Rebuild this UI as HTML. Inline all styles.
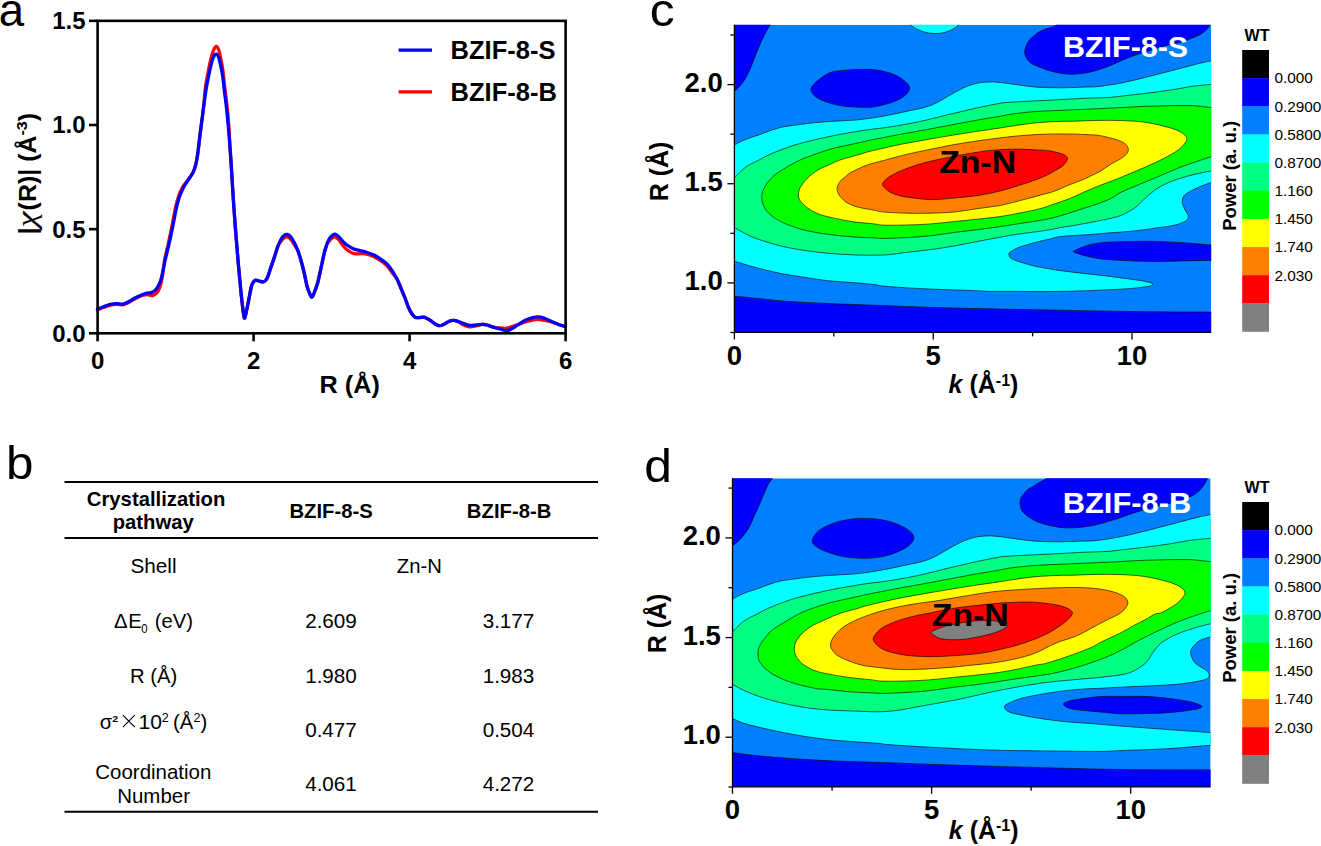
<!DOCTYPE html>
<html><head><meta charset="utf-8"><style>
html,body{margin:0;padding:0;background:#fff;}
body{width:1321px;height:846px;overflow:hidden;}
svg{display:block;font-family:"Liberation Sans",sans-serif;}
</style></head><body>
<svg width="1321" height="846" viewBox="0 0 1321 846">
<text transform="translate(-1.2,26) scale(0.97,1)" font-size="47" font-weight="normal" text-anchor="start" fill="#000" >a</text>
<g fill="none" stroke-linejoin="round" stroke-linecap="round">
<path d="M97.5,310C98.58,309.55 101.67,308.17 104,307.3C106.33,306.43 109.33,305.28 111.5,304.8C113.67,304.32 115.07,304.4 117,304.4C118.93,304.4 121.27,305.07 123.1,304.8C124.93,304.53 126.48,303.53 128,302.8C129.52,302.07 130.7,301.23 132.2,300.4C133.7,299.57 135.35,298.62 137,297.8C138.65,296.98 140.43,296.05 142.1,295.5C143.77,294.95 145.48,294.48 147,294.5C148.52,294.52 149.87,295.63 151.2,295.6C152.53,295.57 153.88,294.98 155,294.3C156.12,293.62 156.98,293.05 157.9,291.5C158.82,289.95 159.73,287.58 160.5,285C161.27,282.42 161.82,280.17 162.5,276C163.18,271.83 163.63,265.4 164.6,260C165.57,254.6 167.05,249.37 168.3,243.6C169.55,237.83 170.93,231.25 172.1,225.4C173.27,219.55 174.23,213.32 175.3,208.5C176.37,203.68 177.28,200.05 178.5,196.5C179.72,192.95 180.92,190.07 182.6,187.2C184.28,184.33 186.83,181.82 188.6,179.3C190.37,176.78 192,174.6 193.2,172.1C194.4,169.6 195.05,167.33 195.8,164.3C196.55,161.27 197,158.78 197.7,153.9C198.4,149.02 199.08,142.27 200,135C200.92,127.73 202.27,118.47 203.2,110.3C204.13,102.13 204.83,92.05 205.6,86C206.37,79.95 206.97,78.33 207.8,74C208.63,69.67 209.7,63.83 210.6,60C211.5,56.17 212.27,53.28 213.2,51C214.13,48.72 215.27,46.47 216.2,46.3C217.13,46.13 218.07,48.05 218.8,50C219.53,51.95 219.93,54.67 220.6,58C221.27,61.33 222.13,65.33 222.8,70C223.47,74.67 223.92,80.17 224.6,86C225.28,91.83 226.22,98.67 226.9,105C227.58,111.33 228.15,116.5 228.7,124C229.25,131.5 229.73,142.42 230.2,150C230.67,157.58 230.95,160.83 231.5,169.5C232.05,178.17 232.85,192.25 233.5,202C234.15,211.75 234.65,218.33 235.4,228C236.15,237.67 237.12,249.78 238,260C238.88,270.22 239.87,280.97 240.7,289.3C241.53,297.63 242.38,305.22 243,310C243.62,314.78 243.9,317.5 244.4,318C244.9,318.5 245.37,315.57 246,313C246.63,310.43 247.28,307.1 248.2,302.6C249.12,298.1 250.62,289.43 251.5,286C252.38,282.57 252.82,282.97 253.5,282C254.18,281.03 254.68,280.37 255.6,280.2C256.52,280.03 257.75,280.72 259,281C260.25,281.28 261.93,282.07 263.1,281.9C264.27,281.73 265.18,280.97 266,280C266.82,279.03 267.17,278.27 268,276.1C268.83,273.93 269.88,270.32 271,267C272.12,263.68 273.53,259.7 274.7,256.2C275.87,252.7 276.9,248.53 278,246C279.1,243.47 280.3,242.37 281.3,241C282.3,239.63 283.03,238.5 284,237.8C284.97,237.1 286.02,236.63 287.1,236.8C288.18,236.97 289.27,237.43 290.5,238.8C291.73,240.17 293.25,242.97 294.5,245C295.75,247.03 296.88,248.3 298,251C299.12,253.7 300.2,257.7 301.2,261.2C302.2,264.7 303.03,267.87 304,272C304.97,276.13 306.08,282.5 307,286C307.92,289.5 308.68,291.13 309.5,293C310.32,294.87 311.07,297.37 311.9,297.2C312.73,297.03 313.53,294.42 314.5,292C315.47,289.58 316.62,286.7 317.7,282.7C318.78,278.7 319.9,272.97 321,268C322.1,263.03 323.3,256.9 324.3,252.9C325.3,248.9 326.17,245.98 327,244C327.83,242.02 328.47,242 329.3,241C330.13,240 331.05,238.7 332,238C332.95,237.3 333.92,236.55 335,236.8C336.08,237.05 337.2,238.05 338.5,239.5C339.8,240.95 341.38,243.78 342.8,245.5C344.22,247.22 345.35,248.5 347,249.8C348.65,251.1 350.87,252.63 352.7,253.3C354.53,253.97 355.87,253.72 358,253.8C360.13,253.88 362.83,253.3 365.5,253.8C368.17,254.3 371.17,255.43 374,256.8C376.83,258.17 380.17,260.3 382.5,262C384.83,263.7 386.35,265.17 388,267C389.65,268.83 390.9,271 392.4,273C393.9,275 395.58,276.48 397,279C398.42,281.52 399.57,284.93 400.9,288.1C402.23,291.27 403.7,294.7 405,298C406.3,301.3 407.53,305.23 408.7,307.9C409.87,310.57 410.93,312.45 412,314C413.07,315.55 413.93,316.6 415.1,317.2C416.27,317.8 417.58,317.6 419,317.6C420.42,317.6 422.27,317.05 423.6,317.2C424.93,317.35 425.82,317.92 427,318.5C428.18,319.08 429.37,319.82 430.7,320.7C432.03,321.58 433.58,322.97 435,323.8C436.42,324.63 437.7,325.63 439.2,325.7C440.7,325.77 442.35,324.95 444,324.2C445.65,323.45 447.47,321.83 449.1,321.2C450.73,320.57 452.32,320.35 453.8,320.4C455.28,320.45 456.47,320.77 458,321.5C459.53,322.23 461.08,323.92 463,324.8C464.92,325.68 467.33,326.6 469.5,326.8C471.67,327 473.87,326.42 476,326C478.13,325.58 480.47,324.47 482.3,324.3C484.13,324.13 485.35,324.58 487,325C488.65,325.42 490.03,326.3 492.2,326.8C494.37,327.3 497.55,327.77 500,328C502.45,328.23 504.9,328.45 506.9,328.2C508.9,327.95 510.03,327.15 512,326.5C513.97,325.85 516.2,325.13 518.7,324.3C521.2,323.47 523.88,322.32 527,321.5C530.12,320.68 534.4,319.57 537.4,319.4C540.4,319.23 542.37,320.02 545,320.5C547.63,320.98 550.7,321.55 553.2,322.3C555.7,323.05 558.03,324.33 560,325C561.97,325.67 564.17,326.08 565,326.3" stroke="#ff0000" stroke-width="3.3"/>
<path d="M97.5,309.2C98.58,308.75 101.67,307.37 104,306.5C106.33,305.63 109.33,304.48 111.5,304C113.67,303.52 115.07,303.6 117,303.6C118.93,303.6 121.27,304.27 123.1,304C124.93,303.73 126.48,302.73 128,302C129.52,301.27 130.7,300.43 132.2,299.6C133.7,298.77 135.35,297.82 137,297C138.65,296.18 140.43,295.33 142.1,294.7C143.77,294.07 145.48,293.55 147,293.2C148.52,292.85 149.87,293.05 151.2,292.6C152.53,292.15 153.88,291.52 155,290.5C156.12,289.48 156.98,288.08 157.9,286.5C158.82,284.92 159.73,283.25 160.5,281C161.27,278.75 161.72,276.5 162.5,273C163.28,269.5 164.1,264.9 165.2,260C166.3,255.1 167.8,249.37 169.1,243.6C170.4,237.83 171.8,231.25 173,225.4C174.2,219.55 175.22,213.27 176.3,208.5C177.38,203.73 178.32,200.27 179.5,196.8C180.68,193.33 181.88,190.62 183.4,187.7C184.92,184.78 186.97,181.9 188.6,179.3C190.23,176.7 192,174.6 193.2,172.1C194.4,169.6 195.05,167.33 195.8,164.3C196.55,161.27 197,158.78 197.7,153.9C198.4,149.02 199.08,142.27 200,135C200.92,127.73 202.2,117.8 203.2,110.3C204.2,102.8 205.17,95.35 206,90C206.83,84.65 207.37,82.37 208.2,78.2C209.03,74.03 210.17,68.45 211,65C211.83,61.55 212.33,59.32 213.2,57.5C214.07,55.68 215.32,54.18 216.2,54.1C217.08,54.02 217.82,55.33 218.5,57C219.18,58.67 219.63,61.1 220.3,64.1C220.97,67.1 221.83,70.65 222.5,75C223.17,79.35 223.63,84.7 224.3,90.2C224.97,95.7 225.83,101.97 226.5,108C227.17,114.03 227.68,119.4 228.3,126.4C228.92,133.4 229.67,142.82 230.2,150C230.73,157.18 230.95,160.83 231.5,169.5C232.05,178.17 232.85,192.25 233.5,202C234.15,211.75 234.65,218.33 235.4,228C236.15,237.67 237.12,249.78 238,260C238.88,270.22 239.87,280.97 240.7,289.3C241.53,297.63 242.38,305.22 243,310C243.62,314.78 243.9,317.5 244.4,318C244.9,318.5 245.37,315.57 246,313C246.63,310.43 247.28,307.1 248.2,302.6C249.12,298.1 250.62,289.43 251.5,286C252.38,282.57 252.82,282.97 253.5,282C254.18,281.03 254.68,280.37 255.6,280.2C256.52,280.03 257.75,280.72 259,281C260.25,281.28 261.93,282.07 263.1,281.9C264.27,281.73 265.18,280.97 266,280C266.82,279.03 267.17,278.27 268,276.1C268.83,273.93 269.88,270.32 271,267C272.12,263.68 273.53,259.7 274.7,256.2C275.87,252.7 276.9,248.9 278,246C279.1,243.1 280.3,240.55 281.3,238.8C282.3,237.05 283.03,236.23 284,235.5C284.97,234.77 286.02,234.23 287.1,234.4C288.18,234.57 289.27,235.07 290.5,236.5C291.73,237.93 293.25,240.58 294.5,243C295.75,245.42 296.88,247.97 298,251C299.12,254.03 300.2,257.7 301.2,261.2C302.2,264.7 303.03,267.87 304,272C304.97,276.13 306.08,282.5 307,286C307.92,289.5 308.68,291.13 309.5,293C310.32,294.87 311.07,297.37 311.9,297.2C312.73,297.03 313.53,294.42 314.5,292C315.47,289.58 316.62,286.7 317.7,282.7C318.78,278.7 319.9,272.97 321,268C322.1,263.03 323.3,256.9 324.3,252.9C325.3,248.9 326.17,246.35 327,244C327.83,241.65 328.47,240.22 329.3,238.8C330.13,237.38 331.05,236.27 332,235.5C332.95,234.73 333.92,234.03 335,234.2C336.08,234.37 337.2,235.32 338.5,236.5C339.8,237.68 341.38,239.88 342.8,241.3C344.22,242.72 345.35,243.82 347,245C348.65,246.18 350.87,247.53 352.7,248.4C354.53,249.27 355.87,249.62 358,250.2C360.13,250.78 362.83,251.1 365.5,251.9C368.17,252.7 371.17,253.58 374,255C376.83,256.42 380.17,258.73 382.5,260.4C384.83,262.07 386.35,263.22 388,265C389.65,266.78 390.9,268.77 392.4,271.1C393.9,273.43 395.58,276.17 397,279C398.42,281.83 399.57,284.93 400.9,288.1C402.23,291.27 403.7,294.7 405,298C406.3,301.3 407.53,305.23 408.7,307.9C409.87,310.57 410.93,312.45 412,314C413.07,315.55 413.93,316.6 415.1,317.2C416.27,317.8 417.58,317.6 419,317.6C420.42,317.6 422.27,317.05 423.6,317.2C424.93,317.35 425.82,317.92 427,318.5C428.18,319.08 429.37,319.82 430.7,320.7C432.03,321.58 433.58,322.97 435,323.8C436.42,324.63 437.7,325.63 439.2,325.7C440.7,325.77 442.35,324.95 444,324.2C445.65,323.45 447.47,321.83 449.1,321.2C450.73,320.57 452.32,320.35 453.8,320.4C455.28,320.45 456.47,321.02 458,321.5C459.53,321.98 461.08,322.67 463,323.3C464.92,323.93 467.33,325.05 469.5,325.3C471.67,325.55 473.87,324.97 476,324.8C478.13,324.63 480.47,324.27 482.3,324.3C484.13,324.33 485.35,324.58 487,325C488.65,325.42 490.03,326.13 492.2,326.8C494.37,327.47 497.55,328.35 500,329C502.45,329.65 504.9,330.78 506.9,330.7C508.9,330.62 510.03,329.57 512,328.5C513.97,327.43 516.2,325.8 518.7,324.3C521.2,322.8 523.88,320.73 527,319.5C530.12,318.27 534.4,317.07 537.4,316.9C540.4,316.73 542.37,317.6 545,318.5C547.63,319.4 550.7,321.22 553.2,322.3C555.7,323.38 558.03,324.33 560,325C561.97,325.67 564.17,326.08 565,326.3" stroke="#0000ff" stroke-width="3.3"/>
</g>
<rect x="97.6" y="20.85" width="468.0" height="312.45" fill="none" stroke="#000" stroke-width="2.6"/>
<line x1="89" y1="333.3" x2="97.6" y2="333.3" stroke="#000" stroke-width="2.6"/>
<text x="85.6" y="341.7" font-size="24" font-weight="bold" text-anchor="end" fill="#000" >0.0</text>
<line x1="89" y1="229.15" x2="97.6" y2="229.15" stroke="#000" stroke-width="2.6"/>
<text x="85.6" y="237.55" font-size="24" font-weight="bold" text-anchor="end" fill="#000" >0.5</text>
<line x1="89" y1="125" x2="97.6" y2="125" stroke="#000" stroke-width="2.6"/>
<text x="85.6" y="133.4" font-size="24" font-weight="bold" text-anchor="end" fill="#000" >1.0</text>
<line x1="89" y1="20.85" x2="97.6" y2="20.85" stroke="#000" stroke-width="2.6"/>
<text x="85.6" y="29.25" font-size="24" font-weight="bold" text-anchor="end" fill="#000" >1.5</text>
<line x1="97.6" y1="333.3" x2="97.6" y2="341.3" stroke="#000" stroke-width="2.6"/>
<text x="97.6" y="368.6" font-size="24" font-weight="bold" text-anchor="middle" fill="#000" >0</text>
<line x1="253.6" y1="333.3" x2="253.6" y2="341.3" stroke="#000" stroke-width="2.6"/>
<text x="253.6" y="368.6" font-size="24" font-weight="bold" text-anchor="middle" fill="#000" >2</text>
<line x1="409.6" y1="333.3" x2="409.6" y2="341.3" stroke="#000" stroke-width="2.6"/>
<text x="409.6" y="368.6" font-size="24" font-weight="bold" text-anchor="middle" fill="#000" >4</text>
<line x1="565.6" y1="333.3" x2="565.6" y2="341.3" stroke="#000" stroke-width="2.6"/>
<text x="565.6" y="368.6" font-size="24" font-weight="bold" text-anchor="middle" fill="#000" >6</text>
<text transform="translate(349.7,393.1) scale(1.03,1)" font-size="24.5" font-weight="bold" text-anchor="middle" fill="#000" >R (Å)</text>
<g transform="translate(35.6,232.4) rotate(-90)"><text x="-1.9" y="0" font-size="24" font-weight="bold" text-anchor="start" fill="#000" >|</text><text transform="translate(4.96,0) scale(1.3,1)" font-family="Liberation Serif" font-style="italic" font-size="28">χ</text><text transform="translate(22,0) scale(1.04,1)" font-size="24" font-weight="bold" text-anchor="start" fill="#000" >(R)| (Å<tspan font-size="15.5" dy="-9">-3</tspan><tspan dy="9">)</tspan></text></g>
<line x1="398.6" y1="50.1" x2="432" y2="50.1" stroke="#0000ff" stroke-width="3.2"/>
<line x1="398.6" y1="91.9" x2="432" y2="91.9" stroke="#ff0000" stroke-width="3.2"/>
<text transform="translate(450.6,58.8) scale(1.02,1)" font-size="25" font-weight="bold" text-anchor="start" fill="#000" >BZIF-8-S</text>
<text transform="translate(450.6,101) scale(1.02,1)" font-size="25" font-weight="bold" text-anchor="start" fill="#000" >BZIF-8-B</text>
<text transform="translate(5.9,479.3) scale(1.05,1)" font-size="47" font-weight="normal" text-anchor="start" fill="#000" >b</text>
<line x1="64.5" y1="482.0" x2="598" y2="482.0" stroke="#000" stroke-width="2"/>
<line x1="64.5" y1="538.1" x2="598" y2="538.1" stroke="#000" stroke-width="2"/>
<line x1="64.5" y1="811.8" x2="598" y2="811.8" stroke="#000" stroke-width="2"/>
<text transform="translate(156.1,505.9) scale(1.035,1)" font-size="19.6" font-weight="bold" text-anchor="middle" fill="#000" >Crystallization</text>
<text transform="translate(153.2,528.6) scale(1.035,1)" font-size="19.6" font-weight="bold" text-anchor="middle" fill="#000" >pathway</text>
<text transform="translate(331.1,517.6) scale(1.035,1)" font-size="19.6" font-weight="bold" text-anchor="middle" fill="#000" >BZIF-8-S</text>
<text transform="translate(509.1,517.6) scale(1.035,1)" font-size="19.6" font-weight="bold" text-anchor="middle" fill="#000" >BZIF-8-B</text>
<text transform="translate(153.5,572.9) scale(1.06,1)" font-size="19.6" font-weight="normal" text-anchor="middle" fill="#000" >Shell</text>
<text transform="translate(419.4,573) scale(1.035,1)" font-size="19.6" font-weight="normal" text-anchor="middle" fill="#000" >Zn-N</text>
<text transform="translate(114,627.9) scale(1.035,1)" font-size="19.6" font-weight="normal" text-anchor="start" fill="#000" >Δ</text>
<text transform="translate(128.3,627.9) scale(1.035,1)" font-size="19.6" font-weight="normal" text-anchor="start" fill="#000" >E</text>
<text transform="translate(141.3,632.6) scale(0.85,1)" font-size="13.5" font-weight="normal" text-anchor="start" fill="#000" >0</text>
<text transform="translate(154.8,627.9) scale(1.035,1)" font-size="19.6" font-weight="normal" text-anchor="start" fill="#000" >(eV)</text>
<text transform="translate(331,627.9) scale(1.055,1)" font-size="19.6" font-weight="normal" text-anchor="middle" fill="#000" >2.609</text>
<text transform="translate(508.5,627.9) scale(1.055,1)" font-size="19.6" font-weight="normal" text-anchor="middle" fill="#000" >3.177</text>
<text transform="translate(153.6,683) scale(1.035,1)" font-size="19.6" font-weight="normal" text-anchor="middle" fill="#000" >R (Å)</text>
<text transform="translate(331,683) scale(1.055,1)" font-size="19.6" font-weight="normal" text-anchor="middle" fill="#000" >1.980</text>
<text transform="translate(508.5,683) scale(1.055,1)" font-size="19.6" font-weight="normal" text-anchor="middle" fill="#000" >1.983</text>
<text transform="translate(99.8,728.6) scale(1.035,1)" font-size="19.6" font-weight="normal" text-anchor="start" fill="#000" >σ</text>
<text transform="translate(112.3,721.9) scale(1.1,1)" font-size="9.5" font-weight="bold" text-anchor="start" fill="#000" >2</text>
<path d="M122.9,715.2L134.8,727.1M134.8,715.2L122.9,727.1" stroke="#000" stroke-width="1.15" fill="none"/>
<text transform="translate(138.6,728.6) scale(1.03,1)" font-size="20.5" font-weight="normal" text-anchor="start" fill="#000" >10</text>
<text x="161.8" y="722.3" font-size="12.6" font-weight="normal" text-anchor="start" fill="#000" >2</text>
<text transform="translate(172.9,728.6) scale(1.035,1)" font-size="19.6" font-weight="normal" text-anchor="start" fill="#000" >(Å</text>
<text x="193.6" y="722.3" font-size="12.6" font-weight="normal" text-anchor="start" fill="#000" >2</text>
<text transform="translate(200.6,728.6) scale(1.035,1)" font-size="19.6" font-weight="normal" text-anchor="start" fill="#000" >)</text>
<text transform="translate(331,736.5) scale(1.055,1)" font-size="19.6" font-weight="normal" text-anchor="middle" fill="#000" >0.477</text>
<text transform="translate(508.5,736.5) scale(1.055,1)" font-size="19.6" font-weight="normal" text-anchor="middle" fill="#000" >0.504</text>
<text transform="translate(153.3,779.4) scale(1.045,1)" font-size="19.6" font-weight="normal" text-anchor="middle" fill="#000" >Coordination</text>
<text transform="translate(153.6,802.6) scale(1.045,1)" font-size="19.6" font-weight="normal" text-anchor="middle" fill="#000" >Number</text>
<text transform="translate(331,791) scale(1.055,1)" font-size="19.6" font-weight="normal" text-anchor="middle" fill="#000" >4.061</text>
<text transform="translate(508.5,791) scale(1.055,1)" font-size="19.6" font-weight="normal" text-anchor="middle" fill="#000" >4.272</text>
<clipPath id="clipc"><rect x="734.4" y="24.8" width="476.8" height="307.6"/></clipPath>
<g clip-path="url(#clipc)">
<rect x="734.4" y="24.8" width="476.8" height="307.6" fill="#0080ff"/>
<path d="M771,18C770.85,19.12 771.15,22 770.1,24.7C769.05,27.4 766.58,30.45 764.7,34.2C762.82,37.95 760.57,43.07 758.8,47.2C757.03,51.33 755.67,55.07 754.1,59C752.53,62.93 751.17,67.05 749.4,70.8C747.63,74.55 745.87,78.15 743.5,81.5C741.13,84.85 737.78,88.32 735.2,90.9C732.62,93.48 729.2,95.98 728,97L728,18Z" fill="#0000ff" stroke="#000" stroke-width="0.7" stroke-opacity="0.9"/>
<path d="M810.9,89.8C810.82,87.38 812.55,85.27 815.5,82.5C818.45,79.73 824.52,75.15 828.6,73.2C832.68,71.25 836.07,71.38 840,70.8C843.93,70.22 847.87,69.95 852.2,69.7C856.53,69.45 861.37,69.17 866,69.3C870.63,69.43 875.33,69.63 880,70.5C884.67,71.37 890,72.83 894,74.5C898,76.17 901.38,78.3 904,80.5C906.62,82.7 909.53,85.2 909.7,87.7C909.87,90.2 907.78,93.12 905,95.5C902.22,97.88 898.17,100.12 893,102C887.83,103.88 879.5,105.93 874,106.8C868.5,107.67 864.83,107.28 860,107.2C855.17,107.12 850.23,107.03 845,106.3C839.77,105.57 833.43,104.35 828.6,102.8C823.77,101.25 818.95,99.17 816,97C813.05,94.83 810.98,92.22 810.9,89.8Z" fill="#0000ff" stroke="#000" stroke-width="0.7" stroke-opacity="0.9"/>
<path d="M1062,18C1060.85,19.28 1057.6,23.93 1055.1,25.7C1052.6,27.47 1049.52,27.65 1047,28.6C1044.48,29.55 1042.33,30.08 1040,31.4C1037.67,32.72 1035.08,34.62 1033,36.5C1030.92,38.38 1028.88,40.25 1027.5,42.7C1026.12,45.15 1024.95,48.82 1024.7,51.2C1024.45,53.58 1025.12,55.12 1026,57C1026.88,58.88 1028.12,60.97 1030,62.5C1031.88,64.03 1034.12,64.85 1037.3,66.2C1040.48,67.55 1045.32,69.43 1049.1,70.6C1052.88,71.77 1056.05,72.6 1060,73.2C1063.95,73.8 1068.33,74.27 1072.8,74.2C1077.27,74.13 1082.5,73.55 1086.8,72.8C1091.1,72.05 1094.65,70.92 1098.6,69.7C1102.55,68.48 1106.55,67.08 1110.5,65.5C1114.45,63.92 1118.37,61.87 1122.3,60.2C1126.23,58.53 1130.15,56.88 1134.1,55.5C1138.05,54.12 1142.05,53.18 1146,51.9C1149.95,50.62 1153.87,48.98 1157.8,47.8C1161.73,46.62 1165.67,45.78 1169.6,44.8C1173.53,43.82 1177.47,43.08 1181.4,41.9C1185.33,40.72 1189.65,39.18 1193.2,37.7C1196.75,36.22 1200.13,34.77 1202.7,33C1205.27,31.23 1207.05,29.27 1208.6,27.1C1210.15,24.93 1211.43,21.18 1212,20Z" fill="#0000ff" stroke="#000" stroke-width="0.7" stroke-opacity="0.9"/>
<path d="M728,296C729.2,296.03 730.27,295.78 735.2,296.2C740.13,296.62 749.92,297.72 757.6,298.5C765.28,299.28 773.4,300.25 781.3,300.9C789.2,301.55 797.12,301.95 805,302.4C812.88,302.85 820.73,303.27 828.6,303.6C836.47,303.93 843.03,304.07 852.2,304.4C861.37,304.73 874.42,305.25 883.6,305.6C892.78,305.95 899.4,306.2 907.3,306.5C915.2,306.8 923.12,307.15 931,307.4C938.88,307.65 946.73,307.8 954.6,308C962.47,308.2 970.63,308.42 978.2,308.6C985.77,308.78 990.15,308.9 1000,309.1C1009.85,309.3 1023.2,309.53 1037.3,309.8C1051.4,310.07 1069.15,310.42 1084.6,310.7C1100.05,310.98 1115.77,311.3 1130,311.5C1144.23,311.7 1156.43,311.8 1170,311.9C1183.57,312 1203.4,312.05 1211.4,312.1C1219.4,312.15 1216.9,312.18 1218,312.2L1218,340L728,340Z" fill="#0000ff" stroke="#000" stroke-width="0.7" stroke-opacity="0.9"/>
<path d="M908,18C908.38,19.12 908.67,22.78 910.3,24.7C911.93,26.62 915.18,28.2 917.8,29.5C920.42,30.8 923.17,31.82 926,32.5C928.83,33.18 932.13,33.52 934.8,33.6C937.47,33.68 939.78,33.38 942,33C944.22,32.62 946.1,32.05 948.1,31.3C950.1,30.55 952.27,29.6 954,28.5C955.73,27.4 957.5,26.45 958.5,24.7C959.5,22.95 959.75,19.12 960,18Z" fill="#00ffff" stroke="#000" stroke-width="0.7" stroke-opacity="0.9"/>
<path d="M728,148C729.07,147.5 732.23,146.08 734.4,145C736.57,143.92 738.58,142.63 741,141.5C743.42,140.37 745.73,139.37 748.9,138.2C752.07,137.03 756.57,135.72 760,134.5C763.43,133.28 765.95,132.12 769.5,130.9C773.05,129.68 777.37,128.12 781.3,127.2C785.23,126.28 789.15,125.97 793.1,125.4C797.05,124.83 801.05,124.28 805,123.8C808.95,123.32 812.87,122.87 816.8,122.5C820.73,122.13 824.73,121.87 828.6,121.6C832.47,121.33 834.77,121.23 840,120.9C845.23,120.57 852.73,120.4 860,119.6C867.27,118.8 875.72,117.5 883.6,116.1C891.48,114.7 899.4,113 907.3,111.2C915.2,109.4 923.12,108.42 931,105.3C938.88,102.18 948.7,95.62 954.6,92.5C960.5,89.38 962.47,88.18 966.4,86.6C970.33,85.02 974.27,83.78 978.2,83C982.13,82.22 986.37,82 990,81.9C993.63,81.8 996.07,82.02 1000,82.4C1003.93,82.78 1007.38,83.4 1013.6,84.2C1019.82,85 1029.4,86.6 1037.3,87.2C1045.2,87.8 1053.12,87.82 1061,87.8C1068.88,87.78 1078.33,87.32 1084.6,87.1C1090.87,86.88 1092.32,87.22 1098.6,86.5C1104.88,85.78 1114.4,84.33 1122.3,82.8C1130.2,81.27 1138.12,79.23 1146,77.3C1153.88,75.37 1161.73,73.27 1169.6,71.2C1177.47,69.13 1186.27,66.63 1193.2,64.9C1200.13,63.17 1207.07,61.7 1211.2,60.8C1215.33,59.9 1216.87,59.72 1218,59.5L1218,59.5L1218,182.5L1218,182.5C1216.87,182.53 1214.33,181.97 1211.2,182.7C1208.07,183.43 1202.73,185.43 1199.2,186.9C1195.67,188.37 1192.57,189.98 1190,191.5C1187.43,193.02 1185.1,194.28 1183.8,196C1182.5,197.72 1182.2,199.97 1182.2,201.8C1182.2,203.63 1183.08,205.22 1183.8,207C1184.52,208.78 1185.75,210.92 1186.5,212.5C1187.25,214.08 1188.35,215.13 1188.3,216.5C1188.25,217.87 1188.33,219.3 1186.2,220.7C1184.07,222.1 1180.23,223.72 1175.5,224.9C1170.77,226.08 1165.05,226.75 1157.8,227.8C1150.55,228.85 1140.13,230.35 1132,231.2C1123.87,232.05 1116.67,232.3 1109,232.9C1101.33,233.5 1094,234.2 1086,234.8C1078,235.4 1067.15,235.77 1061,236.5C1054.85,237.23 1053.05,238.3 1049.1,239.2C1045.15,240.1 1042.22,240.58 1037.3,241.9C1032.38,243.22 1023.98,245.5 1019.6,247.1C1015.22,248.7 1012.78,250.32 1011,251.5C1009.22,252.68 1008.9,253.08 1008.9,254.2C1008.9,255.32 1009.22,256.92 1011,258.2C1012.78,259.48 1015.22,260.5 1019.6,261.9C1023.98,263.3 1030.4,265.13 1037.3,266.6C1044.2,268.07 1053.12,269.55 1061,270.7C1068.88,271.85 1076.73,272.58 1084.6,273.5C1092.47,274.42 1101.92,275.43 1108.2,276.2C1114.48,276.97 1117,277.38 1122.3,278.1C1127.6,278.82 1135.55,279.8 1140,280.5C1144.45,281.2 1146.92,281.72 1149,282.3C1151.08,282.88 1152.62,283.32 1152.5,284C1152.38,284.68 1152.35,285.62 1148.3,286.4C1144.25,287.18 1134.88,288.15 1128.2,288.7C1121.52,289.25 1115.47,289.35 1108.2,289.7C1100.93,290.05 1094.45,290.48 1084.6,290.8C1074.75,291.12 1060.93,291.5 1049.1,291.6C1037.27,291.7 1023.45,291.43 1013.6,291.4C1003.75,291.37 995.9,291.5 990,291.4C984.1,291.3 984.1,291.05 978.2,290.8C972.3,290.55 962.47,290.18 954.6,289.9C946.73,289.62 938.88,289.43 931,289.1C923.12,288.77 915.2,288.4 907.3,287.9C899.4,287.4 889.15,286.67 883.6,286.1C878.05,285.53 879.23,285.1 874,284.5C868.77,283.9 859.77,283.12 852.2,282.5C844.63,281.88 836.47,281.65 828.6,280.8C820.73,279.95 812.88,278.6 805,277.4C797.12,276.2 789.2,275.17 781.3,273.6C773.4,272.03 765.28,270.02 757.6,268C749.92,265.98 740.13,262.83 735.2,261.5C730.27,260.17 729.2,260.25 728,260Z" fill="#00ffff" stroke="#000" stroke-width="0.7" stroke-opacity="0.9"/>
<path d="M1218,245.2C1216.87,245.17 1217.3,245.43 1211.2,245C1205.1,244.57 1190.3,243.2 1181.4,242.6C1172.5,242 1165.68,241.6 1157.8,241.4C1149.92,241.2 1141.98,241.3 1134.1,241.4C1126.22,241.5 1116.78,241.67 1110.5,242C1104.22,242.33 1100.35,242.8 1096.4,243.4C1092.45,244 1089.87,244.67 1086.8,245.6C1083.73,246.53 1080.23,248 1078,249C1075.77,250 1073.4,250.82 1073.4,251.6C1073.4,252.38 1075.77,252.93 1078,253.7C1080.23,254.47 1083.47,255.4 1086.8,256.2C1090.13,257 1094.05,257.9 1098,258.5C1101.95,259.1 1104.48,259.38 1110.5,259.8C1116.52,260.22 1126.22,260.72 1134.1,261C1141.98,261.28 1149.92,261.52 1157.8,261.5C1165.68,261.48 1172.5,261.08 1181.4,260.9C1190.3,260.72 1205.1,260.48 1211.2,260.4C1217.3,260.32 1216.87,260.4 1218,260.4Z" fill="#0000ff" stroke="#000" stroke-width="0.7" stroke-opacity="0.9"/>
<path d="M728,183C729.07,182.13 731.43,180.47 734.4,177.8C737.37,175.13 741.93,169.83 745.8,167C749.67,164.17 753.65,162.88 757.6,160.8C761.55,158.72 765.55,156.33 769.5,154.5C773.45,152.67 777.37,151.3 781.3,149.8C785.23,148.3 789.15,146.77 793.1,145.5C797.05,144.23 801.05,143.23 805,142.2C808.95,141.17 812.87,140.22 816.8,139.3C820.73,138.38 824.73,137.52 828.6,136.7C832.47,135.88 836.07,135.13 840,134.4C843.93,133.67 847.87,133.03 852.2,132.3C856.53,131.57 860.77,130.75 866,130C871.23,129.25 877.93,128.58 883.6,127.8C889.27,127.02 893.1,126.53 900,125.3C906.9,124.07 916.67,122.25 925,120.4C933.33,118.55 941.67,116.2 950,114.2C958.33,112.2 966.67,110.22 975,108.4C983.33,106.58 993.57,104.37 1000,103.3C1006.43,102.23 1007.38,102.42 1013.6,102C1019.82,101.58 1029.4,101.2 1037.3,100.8C1045.2,100.4 1053.12,100.02 1061,99.6C1068.88,99.18 1076.73,98.65 1084.6,98.3C1092.47,97.95 1101.92,97.88 1108.2,97.5C1114.48,97.12 1116,96.7 1122.3,96C1128.6,95.3 1138.12,94.27 1146,93.3C1153.88,92.33 1161.73,91.38 1169.6,90.2C1177.47,89.02 1186.27,87.17 1193.2,86.2C1200.13,85.23 1207.07,84.83 1211.2,84.4C1215.33,83.97 1216.87,83.73 1218,83.6L1218,83.6L1218,170.5L1218,170.5C1216.87,170.57 1216.32,169.95 1211.2,170.9C1206.08,171.85 1194.23,174.33 1187.3,176.2C1180.37,178.07 1174.52,180.13 1169.6,182.1C1164.68,184.07 1160.75,186.28 1157.8,188C1154.85,189.72 1153.87,190.82 1151.9,192.4C1149.93,193.98 1147.78,195.87 1146,197.5C1144.22,199.13 1142.87,200.62 1141.2,202.2C1139.53,203.78 1137.87,205.57 1136,207C1134.13,208.43 1132.67,209.33 1130,210.8C1127.33,212.27 1124.37,214.3 1120,215.8C1115.63,217.3 1108.87,218.67 1103.8,219.8C1098.73,220.93 1094.32,221.7 1089.6,222.6C1084.88,223.5 1080.22,224.4 1075.5,225.2C1070.78,226 1065.45,226.67 1061.3,227.4C1057.15,228.13 1054.6,228.9 1050.6,229.6C1046.6,230.3 1043.47,230.73 1037.3,231.6C1031.13,232.47 1019.82,233.87 1013.6,234.8C1007.38,235.73 1005.9,236.12 1000,237.2C994.1,238.28 985.77,239.85 978.2,241.3C970.63,242.75 962.47,244.53 954.6,245.9C946.73,247.27 938.88,248.43 931,249.5C923.12,250.57 914.2,251.45 907.3,252.3C900.4,253.15 895.15,254.12 889.6,254.6C884.05,255.08 880.23,255.17 874,255.2C867.77,255.23 859.77,255.12 852.2,254.8C844.63,254.48 836.47,254.02 828.6,253.3C820.73,252.58 812.88,251.7 805,250.5C797.12,249.3 789.2,248.02 781.3,246.1C773.4,244.18 763.52,241.03 757.6,239C751.68,236.97 749.53,235.75 745.8,233.9C742.07,232.05 738.17,229.55 735.2,227.9C732.23,226.25 729.2,224.65 728,224Z" fill="#00ff80" stroke="#000" stroke-width="0.7" stroke-opacity="0.9"/>
<path d="M1218,107.7C1216.87,107.67 1213.35,107.63 1211.2,107.5C1209.05,107.37 1208.1,107.2 1205.1,106.9C1202.1,106.6 1199.12,105.9 1193.2,105.7C1187.28,105.5 1177.47,105.6 1169.6,105.7C1161.73,105.8 1153.88,106 1146,106.3C1138.12,106.6 1130.2,107.1 1122.3,107.5C1114.4,107.9 1104.88,108.4 1098.6,108.7C1092.32,109 1090.87,109.03 1084.6,109.3C1078.33,109.57 1068.88,109.95 1061,110.3C1053.12,110.65 1045.2,110.82 1037.3,111.4C1029.4,111.98 1019.82,112.98 1013.6,113.8C1007.38,114.62 1006.43,115.18 1000,116.3C993.57,117.42 983.33,119.02 975,120.5C966.67,121.98 958.33,123.63 950,125.2C941.67,126.77 933.33,128.37 925,129.9C916.67,131.43 909.17,132.68 900,134.4C890.83,136.12 876.67,138.85 870,140.2C863.33,141.55 865,141.4 860,142.5C855,143.6 845.23,145.6 840,146.8C834.77,148 834.43,147.85 828.6,149.7C822.77,151.55 810.92,155.58 805,157.9C799.08,160.22 797.05,161.5 793.1,163.6C789.15,165.7 784.65,168.35 781.3,170.5C777.95,172.65 775.47,174.25 773,176.5C770.53,178.75 768.25,181.42 766.5,184C764.75,186.58 763.28,189.67 762.5,192C761.72,194.33 761.72,195.92 761.8,198C761.88,200.08 762.12,202.27 763,204.5C763.88,206.73 765.03,209.07 767.1,211.4C769.17,213.73 772.05,216.33 775.4,218.5C778.75,220.67 782.27,222.43 787.2,224.4C792.13,226.37 798.1,228.63 805,230.3C811.9,231.97 820.73,233.32 828.6,234.4C836.47,235.48 844.63,236.22 852.2,236.8C859.77,237.38 868.77,237.63 874,237.9C879.23,238.17 878.05,238.47 883.6,238.4C889.15,238.33 899.4,237.95 907.3,237.5C915.2,237.05 923.12,236.55 931,235.7C938.88,234.85 946.73,233.42 954.6,232.4C962.47,231.38 970.63,230.57 978.2,229.6C985.77,228.63 994.1,227.45 1000,226.6C1005.9,225.75 1006.93,225.53 1013.6,224.5C1020.27,223.47 1033.23,221.57 1040,220.4C1046.77,219.23 1049.47,218.68 1054.2,217.5C1058.93,216.32 1063.67,214.77 1068.4,213.3C1073.13,211.83 1077.88,210.22 1082.6,208.7C1087.32,207.18 1091.98,205.9 1096.7,204.2C1101.42,202.5 1107.02,200.38 1110.9,198.5C1114.78,196.62 1116.13,194.88 1120,192.9C1123.87,190.92 1127.8,189.28 1134.1,186.6C1140.4,183.92 1149.92,180.1 1157.8,176.8C1165.68,173.5 1174.32,169.55 1181.4,166.8C1188.48,164.05 1195.33,161.98 1200.3,160.3C1205.27,158.62 1208.25,157.7 1211.2,156.7C1214.15,155.7 1216.87,154.7 1218,154.3Z" fill="#00ff00" stroke="#000" stroke-width="0.7" stroke-opacity="0.9"/>
<path d="M818,170C814.45,172.22 810.27,175.35 807.3,178.3C804.33,181.25 801.68,184.95 800.2,187.7C798.72,190.45 798.4,192.63 798.4,194.8C798.4,196.97 798.72,198.53 800.2,200.7C801.68,202.87 804.53,205.72 807.3,207.8C810.07,209.88 813.25,211.68 816.8,213.2C820.35,214.72 822.7,215.5 828.6,216.9C834.5,218.3 844.63,220.43 852.2,221.6C859.77,222.77 868.77,223.32 874,223.9C879.23,224.48 878.05,224.92 883.6,225.1C889.15,225.28 899.4,225.2 907.3,225C915.2,224.8 923.12,224.48 931,223.9C938.88,223.32 946.73,222.3 954.6,221.5C962.47,220.7 970.63,219.92 978.2,219.1C985.77,218.28 993.03,217.62 1000,216.6C1006.97,215.58 1013.33,214.32 1020,213C1026.67,211.68 1034.3,210.2 1040,208.7C1045.7,207.2 1049.47,205.6 1054.2,204C1058.93,202.4 1063.67,200.98 1068.4,199.1C1073.13,197.22 1077.88,194.77 1082.6,192.7C1087.32,190.63 1091.98,188.6 1096.7,186.7C1101.42,184.8 1106.63,182.95 1110.9,181.3C1115.17,179.65 1116.45,179.22 1122.3,176.8C1128.15,174.38 1139.1,169.85 1146,166.8C1152.9,163.75 1158.38,161.27 1163.7,158.5C1169.02,155.73 1174.35,152.77 1177.9,150.2C1181.45,147.63 1183.53,145.17 1185,143.1C1186.47,141.03 1187.3,139.57 1186.7,137.8C1186.1,136.03 1184.25,134.18 1181.4,132.5C1178.55,130.82 1175.5,129.38 1169.6,127.7C1163.7,126.02 1153.88,123.58 1146,122.4C1138.12,121.22 1130.2,120.93 1122.3,120.6C1114.4,120.27 1106.48,120.3 1098.6,120.4C1090.72,120.5 1081.27,121.03 1075,121.2C1068.73,121.37 1067.28,121.15 1061,121.4C1054.72,121.65 1045.2,121.97 1037.3,122.7C1029.4,123.43 1019.82,124.92 1013.6,125.8C1007.38,126.68 1006.43,127.03 1000,128C993.57,128.97 983.33,130.33 975,131.6C966.67,132.87 958.33,134.22 950,135.6C941.67,136.98 933.33,138.42 925,139.9C916.67,141.38 909.17,142.6 900,144.5C890.83,146.4 876.67,149.67 870,151.3C863.33,152.93 863.33,153.35 860,154.3C856.67,155.25 853.33,156.05 850,157C846.67,157.95 843.57,158.67 840,160C836.43,161.33 832.27,163.33 828.6,165C824.93,166.67 821.55,167.78 818,170Z" fill="#ffff00" stroke="#000" stroke-width="0.7" stroke-opacity="0.9"/>
<path d="M850,173C847.37,174.63 845.87,176.38 844.2,177.8C842.53,179.22 841.1,180.13 840,181.5C838.9,182.87 838.08,184.67 837.6,186C837.12,187.33 836.95,188.17 837.1,189.5C837.25,190.83 837.68,192.5 838.5,194C839.32,195.5 840.5,197 842,198.5C843.5,200 844.8,201.55 847.5,203C850.2,204.45 853.78,206 858.2,207.2C862.62,208.4 869.77,209.4 874,210.2C878.23,211 878.05,211.5 883.6,212C889.15,212.5 899.4,213 907.3,213.2C915.2,213.4 923.12,213.4 931,213.2C938.88,213 946.73,212.78 954.6,212C962.47,211.22 970.63,209.58 978.2,208.5C985.77,207.42 993.03,206.82 1000,205.5C1006.97,204.18 1013.33,202.32 1020,200.6C1026.67,198.88 1034.3,196.75 1040,195.2C1045.7,193.65 1049.47,192.97 1054.2,191.3C1058.93,189.63 1063.67,187.12 1068.4,185.2C1073.13,183.28 1078.55,181.5 1082.6,179.8C1086.65,178.1 1089.75,176.43 1092.7,175C1095.65,173.57 1097.33,172.97 1100.3,171.2C1103.27,169.43 1107.13,166.47 1110.5,164.4C1113.87,162.33 1117.92,160.45 1120.5,158.8C1123.08,157.15 1124.7,155.88 1126,154.5C1127.3,153.12 1128.05,151.83 1128.3,150.5C1128.55,149.17 1128.28,147.78 1127.5,146.5C1126.72,145.22 1125.45,143.95 1123.6,142.8C1121.75,141.65 1118.97,140.48 1116.4,139.6C1113.83,138.72 1111.17,138.2 1108.2,137.5C1105.23,136.8 1102.53,135.9 1098.6,135.4C1094.67,134.9 1090.87,134.75 1084.6,134.5C1078.33,134.25 1068.88,133.9 1061,133.9C1053.12,133.9 1045.2,134.1 1037.3,134.5C1029.4,134.9 1021.48,135.52 1013.6,136.3C1005.72,137.08 995.9,138.45 990,139.2C984.1,139.95 984.1,139.92 978.2,140.8C972.3,141.68 962.47,143.1 954.6,144.5C946.73,145.9 938.88,147.58 931,149.2C923.12,150.82 915.2,152.32 907.3,154.2C899.4,156.08 889.82,158.85 883.6,160.5C877.38,162.15 873.93,162.85 870,164.1C866.07,165.35 863.33,166.52 860,168C856.67,169.48 852.63,171.37 850,173Z" fill="#ff8000" stroke="#000" stroke-width="0.7" stroke-opacity="0.9"/>
<path d="M882.5,184.8C882.67,186.13 884.32,187.62 885.5,188.8C886.68,189.98 887.68,190.87 889.6,191.9C891.52,192.93 894.05,194.12 897,195C899.95,195.88 901.63,196.43 907.3,197.2C912.97,197.97 923.12,199.47 931,199.6C938.88,199.73 946.73,198.68 954.6,198C962.47,197.32 970.33,196.73 978.2,195.5C986.07,194.27 993.92,192.63 1001.8,190.6C1009.68,188.57 1019.13,185.37 1025.5,183.3C1031.87,181.23 1036.07,179.75 1040,178.2C1043.93,176.65 1046.38,175.37 1049.1,174C1051.82,172.63 1053.93,171.43 1056.3,170C1058.67,168.57 1061.43,167.25 1063.3,165.4C1065.17,163.55 1067.22,160.58 1067.5,158.9C1067.78,157.22 1066.1,156.2 1065,155.3C1063.9,154.4 1063.55,154.25 1060.9,153.5C1058.25,152.75 1053.03,151.4 1049.1,150.8C1045.17,150.2 1043.22,150.18 1037.3,149.9C1031.38,149.62 1021.48,149 1013.6,149.1C1005.72,149.2 995.9,150 990,150.5C984.1,151 984.1,151.15 978.2,152.1C972.3,153.05 961.48,154.92 954.6,156.2C947.72,157.48 942.82,158.45 936.9,159.8C930.98,161.15 925.02,162.5 919.1,164.3C913.18,166.1 906.32,168.55 901.4,170.6C896.48,172.65 892.42,174.9 889.6,176.6C886.78,178.3 885.68,179.43 884.5,180.8C883.32,182.17 882.33,183.47 882.5,184.8Z" fill="#ff0000" stroke="#000" stroke-width="0.7" stroke-opacity="0.9"/>
</g>
<path d="M734.4,24.8V332.4H1211.2" fill="none" stroke="#000" stroke-width="1.3"/>
<line x1="730.4" y1="35.02" x2="734.4" y2="35.02" stroke="#000" stroke-width="1.3"/>
<line x1="727.4" y1="84.6" x2="734.4" y2="84.6" stroke="#000" stroke-width="1.3"/>
<text x="722.8" y="91.6" font-size="27.5" font-weight="bold" text-anchor="end" fill="#000" >2.0</text>
<line x1="730.4" y1="134.17" x2="734.4" y2="134.17" stroke="#000" stroke-width="1.3"/>
<line x1="727.4" y1="183.75" x2="734.4" y2="183.75" stroke="#000" stroke-width="1.3"/>
<text x="722.8" y="190.75" font-size="27.5" font-weight="bold" text-anchor="end" fill="#000" >1.5</text>
<line x1="730.4" y1="233.32" x2="734.4" y2="233.32" stroke="#000" stroke-width="1.3"/>
<line x1="727.4" y1="282.9" x2="734.4" y2="282.9" stroke="#000" stroke-width="1.3"/>
<text x="722.8" y="289.9" font-size="27.5" font-weight="bold" text-anchor="end" fill="#000" >1.0</text>
<line x1="730.4" y1="332.47" x2="734.4" y2="332.47" stroke="#000" stroke-width="1.3"/>
<line x1="734.4" y1="332.4" x2="734.4" y2="339.4" stroke="#000" stroke-width="1.3"/>
<text x="734.4" y="364.9" font-size="27.5" font-weight="bold" text-anchor="middle" fill="#000" >0</text>
<line x1="833.8" y1="332.4" x2="833.8" y2="336.4" stroke="#000" stroke-width="1.3"/>
<line x1="933.2" y1="332.4" x2="933.2" y2="339.4" stroke="#000" stroke-width="1.3"/>
<text x="933.2" y="364.9" font-size="27.5" font-weight="bold" text-anchor="middle" fill="#000" >5</text>
<line x1="1032.6" y1="332.4" x2="1032.6" y2="336.4" stroke="#000" stroke-width="1.3"/>
<line x1="1132" y1="332.4" x2="1132" y2="339.4" stroke="#000" stroke-width="1.3"/>
<text x="1132" y="364.9" font-size="27.5" font-weight="bold" text-anchor="middle" fill="#000" >10</text>
<text x="948.6" y="393.3" font-size="25" font-weight="bold" text-anchor="start" fill="#000" ><tspan font-style="italic">k</tspan> (Å<tspan font-size="16" dy="-7.8">-1</tspan><tspan dy="7.8">)</tspan></text>
<g transform="translate(668.1,171.4) rotate(-90)"><text x="0" y="0" font-size="25" font-weight="bold" text-anchor="middle" fill="#000" >R (Å)</text></g>
<rect x="1242.2" y="50" width="26.8" height="28.45" fill="#000000"/>
<rect x="1242.2" y="78.15" width="26.8" height="28.45" fill="#0000ff"/>
<rect x="1242.2" y="106.3" width="26.8" height="28.45" fill="#0080ff"/>
<rect x="1242.2" y="134.45" width="26.8" height="28.45" fill="#00ffff"/>
<rect x="1242.2" y="162.6" width="26.8" height="28.45" fill="#00ff80"/>
<rect x="1242.2" y="190.75" width="26.8" height="28.45" fill="#00ff00"/>
<rect x="1242.2" y="218.9" width="26.8" height="28.45" fill="#ffff00"/>
<rect x="1242.2" y="247.05" width="26.8" height="28.45" fill="#ff8000"/>
<rect x="1242.2" y="275.2" width="26.8" height="28.45" fill="#ff0000"/>
<rect x="1242.2" y="303.35" width="26.8" height="28.45" fill="#808080"/>
<text transform="translate(1274.4,83.45) scale(1.06,1)" font-size="14.5" font-weight="normal" text-anchor="start" fill="#000" >0.000</text>
<text transform="translate(1274.4,111.6) scale(1.06,1)" font-size="14.5" font-weight="normal" text-anchor="start" fill="#000" >0.2900</text>
<text transform="translate(1274.4,139.75) scale(1.06,1)" font-size="14.5" font-weight="normal" text-anchor="start" fill="#000" >0.5800</text>
<text transform="translate(1274.4,167.9) scale(1.06,1)" font-size="14.5" font-weight="normal" text-anchor="start" fill="#000" >0.8700</text>
<text transform="translate(1274.4,196.05) scale(1.06,1)" font-size="14.5" font-weight="normal" text-anchor="start" fill="#000" >1.160</text>
<text transform="translate(1274.4,224.2) scale(1.06,1)" font-size="14.5" font-weight="normal" text-anchor="start" fill="#000" >1.450</text>
<text transform="translate(1274.4,252.35) scale(1.06,1)" font-size="14.5" font-weight="normal" text-anchor="start" fill="#000" >1.740</text>
<text transform="translate(1274.4,280.5) scale(1.06,1)" font-size="14.5" font-weight="normal" text-anchor="start" fill="#000" >2.030</text>
<text x="1257" y="41.1" font-size="16" font-weight="bold" text-anchor="middle" fill="#000" >WT</text>
<g transform="translate(1235.8,175.8) rotate(-90)"><text x="0" y="0" font-size="18.5" font-weight="bold" text-anchor="middle" fill="#000" >Power (a. u.)</text></g>
<text transform="translate(1125.6,56.9) scale(1.05,1)" font-size="29" font-weight="bold" text-anchor="middle" fill="#fff" >BZIF-8-S</text>
<text transform="translate(977.65,172.5) scale(1.056,1)" font-size="32" font-weight="bold" text-anchor="middle" fill="#000" >Zn-N</text>
<text transform="translate(649.8,25.9) scale(1.06,1)" font-size="47" font-weight="normal" text-anchor="start" fill="#000" >c</text>
<clipPath id="clipd"><rect x="732.5" y="478.3" width="478.1" height="308.5"/></clipPath>
<g clip-path="url(#clipd)">
<rect x="732.5" y="478.3" width="478.1" height="308.5" fill="#0080ff"/>
<path d="M773.5,472C773.32,473.05 773.37,476.08 772.4,478.3C771.43,480.52 769.43,481.92 767.7,485.3C765.97,488.68 764.2,493.55 762,498.6C759.8,503.65 756.7,510.72 754.5,515.6C752.3,520.48 751.02,524.12 748.8,527.9C746.58,531.68 743.72,535.47 741.2,538.3C738.68,541.13 736.23,542.95 733.7,544.9C731.17,546.85 727.28,549.15 726,550L726,472Z" fill="#0000ff" stroke="#000" stroke-width="0.7" stroke-opacity="0.9"/>
<path d="M812.2,540.2C812.78,537.62 815.37,533.37 819,530.5C822.63,527.63 828.83,524.87 834,523C839.17,521.13 844.97,520.07 850,519.3C855.03,518.53 858.87,518.32 864.2,518.4C869.53,518.48 876.37,518.78 882,519.8C887.63,520.82 893.5,522.72 898,524.5C902.5,526.28 906.35,528.35 909,530.5C911.65,532.65 913.9,534.9 913.9,537.4C913.9,539.9 911.98,542.98 909,545.5C906.02,548.02 900.83,550.58 896,552.5C891.17,554.42 885.62,556.05 880,557C874.38,557.95 868.47,558.28 862.3,558.2C856.13,558.12 849.05,557.62 843,556.5C836.95,555.38 830.58,553.25 826,551.5C821.42,549.75 817.8,547.88 815.5,546C813.2,544.12 811.62,542.78 812.2,540.2Z" fill="#0000ff" stroke="#000" stroke-width="0.7" stroke-opacity="0.9"/>
<path d="M1048,472C1047.68,473.1 1047.43,476.93 1046.1,478.6C1044.77,480.27 1042.17,480.72 1040,482C1037.83,483.28 1035.27,484.97 1033.1,486.3C1030.93,487.63 1028.55,488.72 1027,490C1025.45,491.28 1024.83,492.67 1023.8,494C1022.77,495.33 1021.43,496.6 1020.8,498C1020.17,499.4 1020.05,500.98 1020,502.4C1019.95,503.82 1020.25,505.22 1020.5,506.5C1020.75,507.78 1020.75,508.85 1021.5,510.1C1022.25,511.35 1023.58,512.72 1025,514C1026.42,515.28 1028.17,516.58 1030,517.8C1031.83,519.02 1033.7,520.27 1036,521.3C1038.3,522.33 1040.97,523.18 1043.8,524C1046.63,524.82 1049.67,525.57 1053,526.2C1056.33,526.83 1060.47,527.53 1063.8,527.8C1067.13,528.07 1069.67,527.93 1073,527.8C1076.33,527.67 1080.47,527.38 1083.8,527C1087.13,526.62 1089.93,526.13 1093,525.5C1096.07,524.87 1098.1,524.35 1102.2,523.2C1106.3,522.05 1112.48,520.27 1117.6,518.6C1122.72,516.93 1127.78,514.87 1132.9,513.2C1138.02,511.53 1143.17,510.02 1148.3,508.6C1153.43,507.18 1158.58,505.98 1163.7,504.7C1168.82,503.42 1174.4,502.3 1179,500.9C1183.6,499.5 1187.7,498.22 1191.3,496.3C1194.9,494.38 1198.03,492.1 1200.6,489.4C1203.17,486.7 1205.3,483 1206.7,480.1C1208.1,477.2 1208.62,473.35 1209,472Z" fill="#0000ff" stroke="#000" stroke-width="0.7" stroke-opacity="0.9"/>
<path d="M726,752.3C727.07,752.35 728.72,752.2 732.4,752.6C736.08,753 742.17,754.02 748.1,754.7C754.03,755.38 761.3,756.1 768,756.7C774.7,757.3 781.63,757.82 788.3,758.3C794.97,758.78 801.3,759.2 808,759.6C814.7,760 820.17,760.33 828.5,760.7C836.83,761.07 848.08,761.47 858,761.8C867.92,762.13 876,762.28 888,762.7C900,763.12 913,763.72 930,764.3C947,764.88 970.33,765.62 990,766.2C1009.67,766.78 1026.33,767.25 1048,767.8C1069.67,768.35 1092.92,769.15 1120,769.5C1147.08,769.85 1194.17,769.82 1210.5,769.9C1226.83,769.98 1216.75,769.98 1218,770L1218,795L726,795Z" fill="#0000ff" stroke="#000" stroke-width="0.7" stroke-opacity="0.9"/>
<path d="M726.1,602C727.17,601.5 730.33,600.08 732.5,599C734.67,597.92 736.68,596.63 739.1,595.5C741.52,594.37 743.83,593.37 747,592.2C750.17,591.03 754.67,589.72 758.1,588.5C761.53,587.28 764.05,586.12 767.6,584.9C771.15,583.68 775.47,582.12 779.4,581.2C783.33,580.28 787.25,579.97 791.2,579.4C795.15,578.83 799.15,578.28 803.1,577.8C807.05,577.32 810.97,576.87 814.9,576.5C818.83,576.13 822.83,575.87 826.7,575.6C830.57,575.33 832.87,575.23 838.1,574.9C843.33,574.57 850.83,574.4 858.1,573.6C865.37,572.8 873.82,571.5 881.7,570.1C889.58,568.7 897.5,567 905.4,565.2C913.3,563.4 921.22,562.42 929.1,559.3C936.98,556.18 946.8,549.62 952.7,546.5C958.6,543.38 960.57,542.18 964.5,540.6C968.43,539.02 972.37,537.78 976.3,537C980.23,536.22 984.47,536 988.1,535.9C991.73,535.8 994.17,536.02 998.1,536.4C1002.03,536.78 1005.48,537.4 1011.7,538.2C1017.92,539 1027.5,540.6 1035.4,541.2C1043.3,541.8 1051.22,541.82 1059.1,541.8C1066.98,541.78 1076.43,541.32 1082.7,541.1C1088.97,540.88 1090.42,541.22 1096.7,540.5C1102.98,539.78 1112.5,538.33 1120.4,536.8C1128.3,535.27 1136.22,533.23 1144.1,531.3C1151.98,529.37 1159.83,527.27 1167.7,525.2C1175.57,523.13 1184.37,520.63 1191.3,518.9C1198.23,517.17 1205.17,515.7 1209.3,514.8C1213.43,513.9 1214.97,513.72 1216.1,513.5L1216.1,513.5L1218,636.5L1218,636.5C1216.75,636.58 1213.58,636.28 1210.5,637C1207.42,637.72 1202.6,638.9 1199.5,640.8C1196.4,642.7 1193.32,646.03 1191.9,648.4C1190.48,650.77 1190.37,652.48 1191,655C1191.63,657.52 1193.02,660.82 1195.7,663.5C1198.38,666.18 1204.9,668.88 1207.1,671.1C1209.3,673.32 1209.85,675.22 1208.9,676.8C1207.95,678.38 1206.75,679.35 1201.4,680.6C1196.05,681.85 1185.63,683.42 1176.8,684.3C1167.97,685.18 1157.87,685.42 1148.4,685.9C1138.93,686.38 1128.07,686.8 1120,687.2C1111.93,687.6 1105.72,688.02 1100,688.3C1094.28,688.58 1091.62,688.5 1085.7,688.9C1079.78,689.3 1071.58,689.87 1064.5,690.7C1057.42,691.53 1050.3,692.65 1043.2,693.9C1036.1,695.15 1027.75,696.6 1021.9,698.2C1016.05,699.8 1011.02,702 1008.1,703.5C1005.18,705 1004.23,705.78 1004.4,707.2C1004.57,708.62 1006.18,710.67 1009.1,712C1012.02,713.33 1016.22,714.05 1021.9,715.2C1027.58,716.35 1036.1,717.83 1043.2,718.9C1050.3,719.97 1057.42,720.88 1064.5,721.6C1071.58,722.32 1079.78,722.75 1085.7,723.2C1091.62,723.65 1094.28,723.83 1100,724.3C1105.72,724.77 1110.37,725.25 1120,726C1129.63,726.75 1142.72,727.7 1157.8,728.8C1172.88,729.9 1200.47,731.87 1210.5,732.6C1220.53,733.33 1216.75,733.1 1218,733.2L1218,733.2L1218,745L1218,745C1216.75,745.05 1218.95,744.68 1210.5,745.3C1202.05,745.92 1182.38,747.82 1167.3,748.7C1152.22,749.58 1131.22,750.15 1120,750.6C1108.78,751.05 1112.8,751.35 1100,751.4C1087.2,751.45 1061.53,751.13 1043.2,750.9C1024.87,750.67 1008.87,750.62 990,750C971.13,749.38 947,748.1 930,747.2C913,746.3 896.67,745.23 888,744.6C879.33,743.97 887.92,744.23 878,743.4C868.08,742.57 843.45,741.25 828.5,739.6C813.55,737.95 801.7,736.02 788.3,733.5C774.9,730.98 757.42,727 748.1,724.5C738.78,722 736.08,719.92 732.4,718.5C728.72,717.08 727.07,716.42 726,716Z" fill="#00ffff" stroke="#000" stroke-width="0.7" stroke-opacity="0.9"/>
<path d="M1063.4,703.8C1063.63,702.85 1066.05,702.17 1068,701.5C1069.95,700.83 1069.77,700.62 1075.1,699.8C1080.43,698.98 1092.52,697.17 1100,696.6C1107.48,696.03 1111.93,696.4 1120,696.4C1128.07,696.4 1138.93,696.08 1148.4,696.6C1157.87,697.12 1168.92,698.38 1176.8,699.5C1184.68,700.62 1191.53,702.03 1195.7,703.3C1199.87,704.57 1202.43,706 1201.8,707.1C1201.17,708.2 1197.65,708.97 1191.9,709.9C1186.15,710.83 1176.13,712.07 1167.3,712.7C1158.47,713.33 1146.78,713.53 1138.9,713.7C1131.02,713.87 1126.48,713.98 1120,713.7C1113.52,713.42 1107.48,712.72 1100,712C1092.52,711.28 1080.67,710.2 1075.1,709.4C1069.53,708.6 1068.55,708.13 1066.6,707.2C1064.65,706.27 1063.17,704.75 1063.4,703.8Z" fill="#0000ff" stroke="#000" stroke-width="0.7" stroke-opacity="0.9"/>
<path d="M726.1,637C727.17,636.13 729.53,634.47 732.5,631.8C735.47,629.13 740.03,623.83 743.9,621C747.77,618.17 751.75,616.88 755.7,614.8C759.65,612.72 763.65,610.33 767.6,608.5C771.55,606.67 775.47,605.3 779.4,603.8C783.33,602.3 787.25,600.77 791.2,599.5C795.15,598.23 799.15,597.23 803.1,596.2C807.05,595.17 810.97,594.22 814.9,593.3C818.83,592.38 822.83,591.52 826.7,590.7C830.57,589.88 834.17,589.13 838.1,588.4C842.03,587.67 845.97,587.03 850.3,586.3C854.63,585.57 858.87,584.75 864.1,584C869.33,583.25 876.03,582.58 881.7,581.8C887.37,581.02 891.2,580.53 898.1,579.3C905,578.07 914.77,576.25 923.1,574.4C931.43,572.55 939.77,570.2 948.1,568.2C956.43,566.2 964.77,564.22 973.1,562.4C981.43,560.58 991.67,558.37 998.1,557.3C1004.53,556.23 1005.48,556.42 1011.7,556C1017.92,555.58 1027.5,555.2 1035.4,554.8C1043.3,554.4 1051.22,554.02 1059.1,553.6C1066.98,553.18 1074.83,552.65 1082.7,552.3C1090.57,551.95 1100.02,551.88 1106.3,551.5C1112.58,551.12 1114.1,550.7 1120.4,550C1126.7,549.3 1136.22,548.27 1144.1,547.3C1151.98,546.33 1159.83,545.38 1167.7,544.2C1175.57,543.02 1184.37,541.17 1191.3,540.2C1198.23,539.23 1205.17,538.83 1209.3,538.4C1213.43,537.97 1214.97,537.73 1216.1,537.6L1216.1,537.6L1218,622.5L1218,622.5C1216.75,622.72 1214.22,622.95 1210.5,623.8C1206.78,624.65 1201.32,625.87 1195.7,627.6C1190.08,629.33 1182.48,631.68 1176.8,634.2C1171.12,636.72 1165.55,639.7 1161.6,642.7C1157.65,645.7 1155.3,649.37 1153.1,652.2C1150.9,655.03 1150.13,657.5 1148.4,659.7C1146.67,661.9 1145.53,663.35 1142.7,665.4C1139.87,667.45 1135.18,670.42 1131.4,672C1127.62,673.58 1125.23,674 1120,674.9C1114.77,675.8 1107.48,676.62 1100,677.4C1092.52,678.18 1084.57,678.7 1075.1,679.6C1065.63,680.5 1053.83,681.38 1043.2,682.8C1032.57,684.22 1020.17,686.52 1011.3,688.1C1002.43,689.68 998.55,690.48 990,692.3C981.45,694.12 970,696.97 960,699C950,701.03 942,702.43 930,704.5C918,706.57 901.57,710.35 888,711.4C874.43,712.45 858.52,711.03 848.6,710.8C838.68,710.57 835.2,710.47 828.5,710C821.8,709.53 815.1,708.93 808.4,708C801.7,707.07 795,705.83 788.3,704.4C781.6,702.97 774.9,701.42 768.2,699.4C761.5,697.38 754.07,694.82 748.1,692.3C742.13,689.78 736.08,686.35 732.4,684.3C728.72,682.25 727.07,680.72 726,680Z" fill="#00ff80" stroke="#000" stroke-width="0.7" stroke-opacity="0.9"/>
<path d="M1216.1,561.7C1214.97,561.67 1211.45,561.63 1209.3,561.5C1207.15,561.37 1206.2,561.2 1203.2,560.9C1200.2,560.6 1197.22,559.9 1191.3,559.7C1185.38,559.5 1175.57,559.6 1167.7,559.7C1159.83,559.8 1151.98,560 1144.1,560.3C1136.22,560.6 1128.3,561.1 1120.4,561.5C1112.5,561.9 1102.98,562.4 1096.7,562.7C1090.42,563 1088.97,563.03 1082.7,563.3C1076.43,563.57 1066.98,563.95 1059.1,564.3C1051.22,564.65 1043.3,564.82 1035.4,565.4C1027.5,565.98 1017.92,566.98 1011.7,567.8C1005.48,568.62 1004.53,569.18 998.1,570.3C991.67,571.42 981.43,573.02 973.1,574.5C964.77,575.98 956.43,577.63 948.1,579.2C939.77,580.77 931.43,582.37 923.1,583.9C914.77,585.43 907.27,586.68 898.1,588.4C888.93,590.12 874.77,592.85 868.1,594.2C861.43,595.55 863.1,595.4 858.1,596.5C853.1,597.6 843.33,599.6 838.1,600.8C832.87,602 832.53,601.85 826.7,603.7C820.87,605.55 810.45,608.62 803.1,611.9C795.75,615.18 787.87,620.3 782.6,623.4C777.33,626.5 774.17,628.37 771.5,630.5C768.83,632.63 768.27,634.2 766.6,636.2C764.93,638.2 762.88,640.2 761.5,642.5C760.12,644.8 758.78,647.15 758.3,650C757.82,652.85 757.98,657.1 758.6,659.6C759.22,662.1 760.85,663.42 762,665C763.15,666.58 762.97,667.17 765.5,669.1C768.03,671.03 772.58,674.28 777.2,676.6C781.82,678.92 786.98,681.05 793.2,683C799.42,684.95 808.92,687.23 814.5,688.3C820.08,689.37 820.73,688.82 826.7,689.4C832.67,689.98 842.73,691.22 850.3,691.8C857.87,692.38 866.87,692.63 872.1,692.9C877.33,693.17 876.15,693.47 881.7,693.4C887.25,693.33 897.5,692.95 905.4,692.5C913.3,692.05 921.22,691.55 929.1,690.7C936.98,689.85 944.83,688.42 952.7,687.4C960.57,686.38 968.73,685.57 976.3,684.6C983.87,683.63 992.2,682.45 998.1,681.6C1004,680.75 1007.73,680.1 1011.7,679.5C1015.67,678.9 1017.52,678.63 1021.9,678C1026.28,677.37 1032.68,676.5 1038,675.7C1043.32,674.9 1046.7,674.78 1053.8,673.2C1060.9,671.62 1070.82,669.32 1080.6,666.2C1090.38,663.08 1101.85,659.3 1112.5,654.5C1123.15,649.7 1133.85,642.73 1144.5,637.4C1155.15,632.07 1167.18,626.4 1176.4,622.5C1185.62,618.6 1194.12,616 1199.8,614C1205.48,612 1207.47,611.5 1210.5,610.5C1213.53,609.5 1216.75,608.42 1218,608Z" fill="#00ff00" stroke="#000" stroke-width="0.7" stroke-opacity="0.9"/>
<path d="M814.5,624.5C811.05,626.33 808.48,628.05 806,630C803.52,631.95 801.3,634.2 799.6,636.2C797.9,638.2 796.68,640.05 795.8,642C794.92,643.95 794.43,645.98 794.3,647.9C794.17,649.82 794.48,651.73 795,653.5C795.52,655.27 796.23,656.83 797.4,658.5C798.57,660.17 800.05,661.9 802,663.5C803.95,665.1 806.77,666.85 809.1,668.1C811.43,669.35 813.33,670.12 816,671C818.67,671.88 820.03,672.38 825.1,673.4C830.17,674.42 840.58,676.22 846.4,677.1C852.22,677.98 855.72,678.23 860,678.7C864.28,679.17 868.48,679.5 872.1,679.9C875.72,680.3 876.15,680.92 881.7,681.1C887.25,681.28 897.5,681.2 905.4,681C913.3,680.8 921.22,680.48 929.1,679.9C936.98,679.32 944.83,678.3 952.7,677.5C960.57,676.7 968.73,675.92 976.3,675.1C983.87,674.28 991.13,673.62 998.1,672.6C1005.07,671.58 1011.43,670.32 1018.1,669C1024.77,667.68 1033.55,665.62 1038.1,664.7C1042.65,663.78 1040.65,664.82 1045.4,663.5C1050.15,662.18 1059.17,659.38 1066.6,656.8C1074.03,654.22 1084.12,650.52 1090,648C1095.88,645.48 1096.9,644.17 1101.9,641.7C1106.9,639.23 1114.68,635.9 1120,633.2C1125.32,630.5 1129.7,627.7 1133.8,625.5C1137.9,623.3 1141.05,621.92 1144.6,620C1148.15,618.08 1152.23,615.25 1155.1,614C1157.97,612.75 1158.32,614.13 1161.8,612.5C1165.28,610.87 1172.45,606.77 1176,604.2C1179.55,601.63 1181.63,599.17 1183.1,597.1C1184.57,595.03 1185.4,593.57 1184.8,591.8C1184.2,590.03 1182.35,588.18 1179.5,586.5C1176.65,584.82 1173.6,583.38 1167.7,581.7C1161.8,580.02 1151.98,577.58 1144.1,576.4C1136.22,575.22 1128.3,574.93 1120.4,574.6C1112.5,574.27 1104.58,574.3 1096.7,574.4C1088.82,574.5 1079.37,575.03 1073.1,575.2C1066.83,575.37 1065.38,575.15 1059.1,575.4C1052.82,575.65 1043.3,575.97 1035.4,576.7C1027.5,577.43 1017.92,578.92 1011.7,579.8C1005.48,580.68 1004.53,581.03 998.1,582C991.67,582.97 981.43,584.33 973.1,585.6C964.77,586.87 956.43,588.22 948.1,589.6C939.77,590.98 931.43,592.42 923.1,593.9C914.77,595.38 907.27,596.6 898.1,598.5C888.93,600.4 874.77,603.67 868.1,605.3C861.43,606.93 861.43,607.35 858.1,608.3C854.77,609.25 851.43,610.05 848.1,611C844.77,611.95 841.67,612.67 838.1,614C834.53,615.33 830.63,617.25 826.7,619C822.77,620.75 817.95,622.67 814.5,624.5Z" fill="#ffff00" stroke="#000" stroke-width="0.7" stroke-opacity="0.9"/>
<path d="M830.5,644.1C830.17,646.77 831.42,648.85 833,651C834.58,653.15 835.5,654.72 840,657C844.5,659.28 853.52,662.95 860,664.7C866.48,666.45 872.6,666.72 878.9,667.5C885.2,668.28 890.95,669.1 897.8,669.4C904.65,669.7 911.3,669.63 920,669.3C928.7,668.97 941.47,668.08 950,667.4C958.53,666.72 964.13,665.93 971.2,665.2C978.27,664.47 985.33,663.98 992.4,663C999.47,662.02 1006.53,660.92 1013.6,659.3C1020.67,657.68 1027.73,656.02 1034.8,653.3C1041.87,650.58 1048.93,645.95 1056,643C1063.07,640.05 1069.55,639.02 1077.2,635.6C1084.85,632.18 1094.95,626.1 1101.9,622.5C1108.85,618.9 1114.97,616.42 1118.9,614C1122.83,611.58 1124,609.9 1125.5,608C1127,606.1 1128.15,604.52 1127.9,602.6C1127.65,600.68 1126.65,598.35 1124,596.5C1121.35,594.65 1116.83,592.83 1112,591.5C1107.17,590.17 1101.17,589.17 1095,588.5C1088.83,587.83 1082.5,587.58 1075,587.5C1067.5,587.42 1057.5,587.75 1050,588C1042.5,588.25 1036.07,588.67 1030,589C1023.93,589.33 1019.87,589.53 1013.6,590C1007.33,590.47 999.47,590.97 992.4,591.8C985.33,592.63 978.27,593.87 971.2,595C964.13,596.13 955.93,597.6 950,598.6C944.07,599.6 941.15,600.17 935.6,601C930.05,601.83 923,602.6 916.7,603.6C910.4,604.6 904.1,605.65 897.8,607C891.5,608.35 885.2,609.8 878.9,611.7C872.6,613.6 865.65,616.02 860,618.4C854.35,620.78 849.17,623.23 845,626C840.83,628.77 837.42,631.98 835,635C832.58,638.02 830.83,641.43 830.5,644.1Z" fill="#ff8000" stroke="#000" stroke-width="0.7" stroke-opacity="0.9"/>
<path d="M873.2,639.1C873.2,641.8 876.37,644.65 878.9,646.7C881.43,648.75 884.47,650.07 888.4,651.4C892.33,652.73 897.78,653.9 902.5,654.7C907.22,655.5 911.18,655.88 916.7,656.2C922.22,656.52 928.28,656.77 935.6,656.6C942.92,656.43 952.9,655.78 960.6,655.2C968.3,654.62 974.73,654.17 981.8,653.1C988.87,652.03 995.93,650.48 1003,648.8C1010.07,647.12 1017.13,645.38 1024.2,643C1031.27,640.62 1039.22,637.5 1045.4,634.5C1051.58,631.5 1057.23,627.82 1061.3,625C1065.37,622.18 1067.95,619.72 1069.8,617.6C1071.65,615.48 1072.93,613.9 1072.4,612.3C1071.87,610.7 1069.33,609.25 1066.6,608C1063.87,606.75 1061.3,605.77 1056,604.8C1050.7,603.83 1041.87,602.62 1034.8,602.2C1027.73,601.78 1020.67,602.03 1013.6,602.3C1006.53,602.57 999.47,603.18 992.4,603.8C985.33,604.42 978.27,605.17 971.2,606C964.13,606.83 956.72,607.67 950,608.8C943.28,609.93 936.45,611.67 930.9,612.8C925.35,613.93 921.43,614.53 916.7,615.6C911.97,616.67 907.22,617.72 902.5,619.2C897.78,620.68 892.33,622.62 888.4,624.5C884.47,626.38 881.43,628.07 878.9,630.5C876.37,632.93 873.2,636.4 873.2,639.1Z" fill="#ff0000" stroke="#000" stroke-width="0.7" stroke-opacity="0.9"/>
<path d="M931.4,633C930.52,631.58 933.52,630.87 935,630C936.48,629.13 937.8,628.63 940.3,627.8C942.8,626.97 944.85,626.1 950,625C955.15,623.9 964.13,621.92 971.2,621.2C978.27,620.48 986.75,620.42 992.4,620.7C998.05,620.98 1002.53,622.13 1005.1,622.9C1007.67,623.67 1008.15,624.25 1007.8,625.3C1007.45,626.35 1005.57,627.83 1003,629.2C1000.43,630.57 997.7,632 992.4,633.5C987.1,635 977.38,637.15 971.2,638.2C965.02,639.25 960.45,639.75 955.3,639.8C950.15,639.85 944.28,639.63 940.3,638.5C936.32,637.37 932.28,634.42 931.4,633Z" fill="#808080" stroke="#000" stroke-width="0.7" stroke-opacity="0.9"/>
</g>
<path d="M732.5,478.3V786.8H1210.6" fill="none" stroke="#000" stroke-width="1.3"/>
<line x1="728.5" y1="488.07" x2="732.5" y2="488.07" stroke="#000" stroke-width="1.3"/>
<line x1="725.5" y1="537.9" x2="732.5" y2="537.9" stroke="#000" stroke-width="1.3"/>
<text x="720.9" y="544.9" font-size="27.5" font-weight="bold" text-anchor="end" fill="#000" >2.0</text>
<line x1="728.5" y1="587.73" x2="732.5" y2="587.73" stroke="#000" stroke-width="1.3"/>
<line x1="725.5" y1="637.55" x2="732.5" y2="637.55" stroke="#000" stroke-width="1.3"/>
<text x="720.9" y="644.55" font-size="27.5" font-weight="bold" text-anchor="end" fill="#000" >1.5</text>
<line x1="728.5" y1="687.38" x2="732.5" y2="687.38" stroke="#000" stroke-width="1.3"/>
<line x1="725.5" y1="737.2" x2="732.5" y2="737.2" stroke="#000" stroke-width="1.3"/>
<text x="720.9" y="744.2" font-size="27.5" font-weight="bold" text-anchor="end" fill="#000" >1.0</text>
<line x1="728.5" y1="787.03" x2="732.5" y2="787.03" stroke="#000" stroke-width="1.3"/>
<line x1="732.5" y1="786.8" x2="732.5" y2="793.8" stroke="#000" stroke-width="1.3"/>
<text x="732.5" y="819.3" font-size="27.5" font-weight="bold" text-anchor="middle" fill="#000" >0</text>
<line x1="832.05" y1="786.8" x2="832.05" y2="790.8" stroke="#000" stroke-width="1.3"/>
<line x1="931.6" y1="786.8" x2="931.6" y2="793.8" stroke="#000" stroke-width="1.3"/>
<text x="931.6" y="819.3" font-size="27.5" font-weight="bold" text-anchor="middle" fill="#000" >5</text>
<line x1="1031.15" y1="786.8" x2="1031.15" y2="790.8" stroke="#000" stroke-width="1.3"/>
<line x1="1130.7" y1="786.8" x2="1130.7" y2="793.8" stroke="#000" stroke-width="1.3"/>
<text x="1130.7" y="819.3" font-size="27.5" font-weight="bold" text-anchor="middle" fill="#000" >10</text>
<text x="948.8" y="839.1" font-size="25" font-weight="bold" text-anchor="start" fill="#000" ><tspan font-style="italic">k</tspan> (Å<tspan font-size="16" dy="-7.8">-1</tspan><tspan dy="7.8">)</tspan></text>
<g transform="translate(665.6,623.4) rotate(-90)"><text x="0" y="0" font-size="25" font-weight="bold" text-anchor="middle" fill="#000" >R (Å)</text></g>
<rect x="1242.2" y="502" width="26.8" height="28.45" fill="#000000"/>
<rect x="1242.2" y="530.15" width="26.8" height="28.45" fill="#0000ff"/>
<rect x="1242.2" y="558.3" width="26.8" height="28.45" fill="#0080ff"/>
<rect x="1242.2" y="586.45" width="26.8" height="28.45" fill="#00ffff"/>
<rect x="1242.2" y="614.6" width="26.8" height="28.45" fill="#00ff80"/>
<rect x="1242.2" y="642.75" width="26.8" height="28.45" fill="#00ff00"/>
<rect x="1242.2" y="670.9" width="26.8" height="28.45" fill="#ffff00"/>
<rect x="1242.2" y="699.05" width="26.8" height="28.45" fill="#ff8000"/>
<rect x="1242.2" y="727.2" width="26.8" height="28.45" fill="#ff0000"/>
<rect x="1242.2" y="755.35" width="26.8" height="28.45" fill="#808080"/>
<text transform="translate(1274.4,535.45) scale(1.06,1)" font-size="14.5" font-weight="normal" text-anchor="start" fill="#000" >0.000</text>
<text transform="translate(1274.4,563.6) scale(1.06,1)" font-size="14.5" font-weight="normal" text-anchor="start" fill="#000" >0.2900</text>
<text transform="translate(1274.4,591.75) scale(1.06,1)" font-size="14.5" font-weight="normal" text-anchor="start" fill="#000" >0.5800</text>
<text transform="translate(1274.4,619.9) scale(1.06,1)" font-size="14.5" font-weight="normal" text-anchor="start" fill="#000" >0.8700</text>
<text transform="translate(1274.4,648.05) scale(1.06,1)" font-size="14.5" font-weight="normal" text-anchor="start" fill="#000" >1.160</text>
<text transform="translate(1274.4,676.2) scale(1.06,1)" font-size="14.5" font-weight="normal" text-anchor="start" fill="#000" >1.450</text>
<text transform="translate(1274.4,704.35) scale(1.06,1)" font-size="14.5" font-weight="normal" text-anchor="start" fill="#000" >1.740</text>
<text transform="translate(1274.4,732.5) scale(1.06,1)" font-size="14.5" font-weight="normal" text-anchor="start" fill="#000" >2.030</text>
<text x="1257" y="493.1" font-size="16" font-weight="bold" text-anchor="middle" fill="#000" >WT</text>
<g transform="translate(1235.8,627.8) rotate(-90)"><text x="0" y="0" font-size="18.5" font-weight="bold" text-anchor="middle" fill="#000" >Power (a. u.)</text></g>
<text transform="translate(1127,512.8) scale(1.065,1)" font-size="29" font-weight="bold" text-anchor="middle" fill="#fff" >BZIF-8-B</text>
<text transform="translate(970.2,626.4) scale(1.056,1)" font-size="32" font-weight="bold" text-anchor="middle" fill="#000" >Zn-N</text>
<text transform="translate(644.2,481.8) scale(1.06,1)" font-size="47" font-weight="normal" text-anchor="start" fill="#000" >d</text>
</svg>
</body></html>
